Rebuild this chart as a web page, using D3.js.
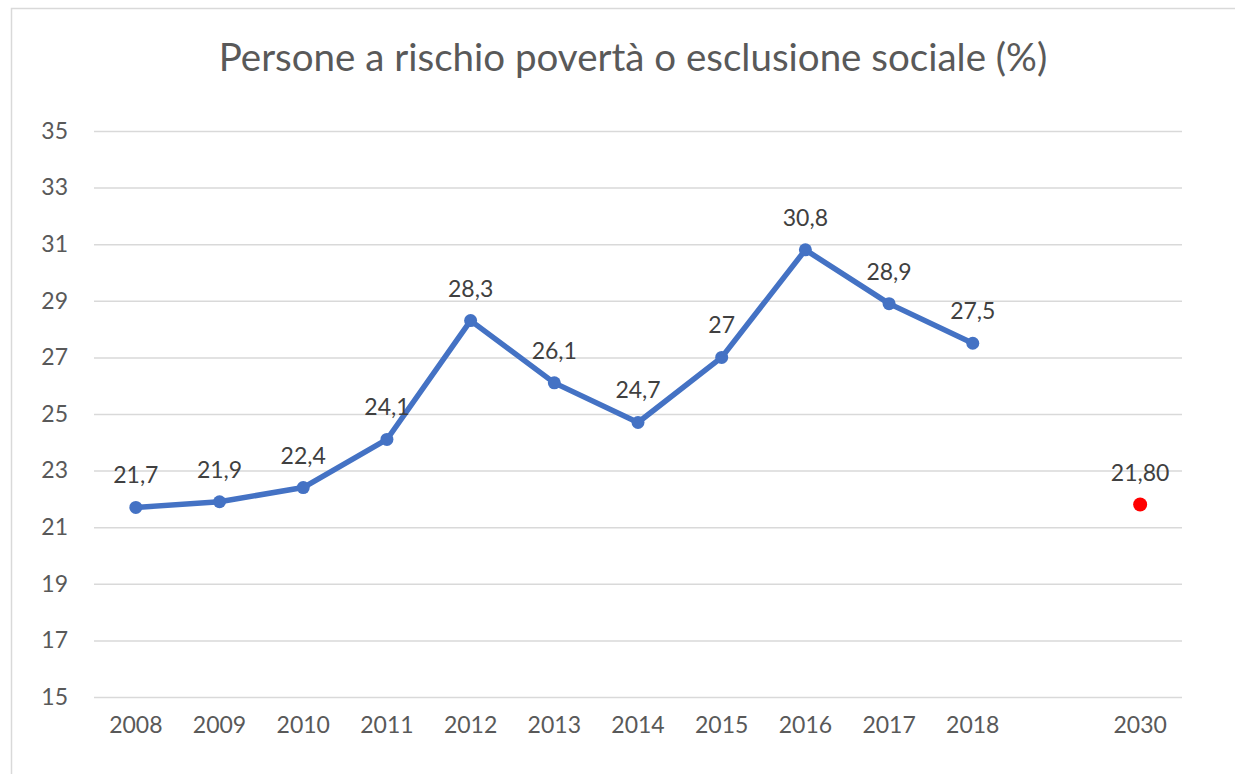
<!DOCTYPE html>
<html>
<head>
<meta charset="utf-8">
<script src="https://cdn.jsdelivr.net/npm/d3@7"></script>
<style>
  body { margin: 0; background: #fff; }
  svg text { font-family: Lato, "Open Sans", sans-serif; }
</style>
</head>
<body>
<div id="chart"></div>
<script>
// categories (blank slot between 2018 and 2030, as in the original)
const categories = ["2008", "2009", "2010", "2011", "2012", "2013", "2014", "2015", "2016", "2017", "2018", "", "2030"];
const years = ["2008", "2009", "2010", "2011", "2012", "2013", "2014", "2015", "2016", "2017", "2018"];
const values = [21.7, 21.9, 22.4, 24.1, 28.3, 26.1, 24.7, 27, 30.8, 28.9, 27.5];
const targetYear = ["2030"];
const targetValue = [21.8];
const targetLabel = ["21,80"];
const yTicks = [15, 17, 19, 21, 23, 25, 27, 29, 31, 33, 35];
const title = "Persone a rischio povertà o esclusione sociale (%)";

const W = 1235, H = 774;
const margin = { left: 94, right: 53, top: 131, bottom: 77 };

const svg = d3.select('#chart').append('svg')
    .attr('width', W)
    .attr('height', H);

// chart frame
svg.append('rect')
    .attr('x', 11.5).attr('y', 8.5)
    .attr('width', W + 20).attr('height', H + 20)
    .attr('fill', '#fff')
    .attr('stroke', '#d9d9d9')
    .attr('stroke-width', 1.5);

svg.append('text')
    .attr('x', 633)
    .attr('y', 71)
    .attr('text-anchor', 'middle')
    .style('font-size', '38.5px')
    .style('fill', '#595959')
    .text(title);

const x = d3.scaleBand()
    .domain(categories)
    .range([margin.left, W - margin.right]);

const y = d3.scaleLinear()
    .domain([15, 35])
    .range([H - margin.bottom, margin.top]);

// y axis + gridlines
const yAxis = svg.append('g')
    .attr('transform', `translate(${margin.left},0)`)
    .call(d3.axisLeft(y)
        .tickValues(yTicks)
        .tickSize(-(W - margin.left - margin.right))
        .tickPadding(26));
yAxis.select('.domain').remove();
yAxis.selectAll('line').attr('stroke', '#d9d9d9').attr('stroke-width', 1.5);
yAxis.selectAll('text')
    .style('font-size', '23px')
    .style('fill', '#595959')
    .attr('font-family', 'Lato, sans-serif');

// x axis
const xAxis = svg.append('g')
    .attr('transform', `translate(0,${H - margin.bottom})`)
    .call(d3.axisBottom(x).tickSize(0).tickPadding(20));
xAxis.select('.domain').remove();
xAxis.selectAll('text')
    .style('font-size', '23px')
    .style('fill', '#595959')
    .attr('font-family', 'Lato, sans-serif');

const cx = d => x(d) + x.bandwidth() / 2;

// main series
const line = d3.line()
    .x((d, i) => cx(years[i]))
    .y(d => y(d));

svg.append('path')
    .datum(values)
    .attr('fill', 'none')
    .attr('stroke', '#4472c4')
    .attr('stroke-width', 5.5)
    .attr('stroke-linejoin', 'round')
    .attr('d', line);

svg.append('g')
    .selectAll('circle')
    .data(values)
    .enter().append('circle')
    .attr('cx', (d, i) => cx(years[i]))
    .attr('cy', d => y(d))
    .attr('r', 6.5)
    .attr('fill', '#4472c4');

svg.append('g')
    .selectAll('text')
    .data(values)
    .enter().append('text')
    .attr('x', (d, i) => cx(years[i]))
    .attr('y', d => y(d) - 24)
    .attr('text-anchor', 'middle')
    .style('font-size', '23px')
    .style('fill', '#404040')
    .text(d => String(d).replace('.', ','));

// 2030 target point
svg.append('g')
    .selectAll('circle')
    .data(targetValue)
    .enter().append('circle')
    .attr('cx', (d, i) => cx(targetYear[i]))
    .attr('cy', d => y(d))
    .attr('r', 7)
    .attr('fill', '#ff0000');

svg.append('g')
    .selectAll('text')
    .data(targetValue)
    .enter().append('text')
    .attr('x', (d, i) => cx(targetYear[i]))
    .attr('y', d => y(d) - 24)
    .attr('text-anchor', 'middle')
    .style('font-size', '23px')
    .style('fill', '#404040')
    .text((d, i) => targetLabel[i]);
</script>
</body>
</html>
